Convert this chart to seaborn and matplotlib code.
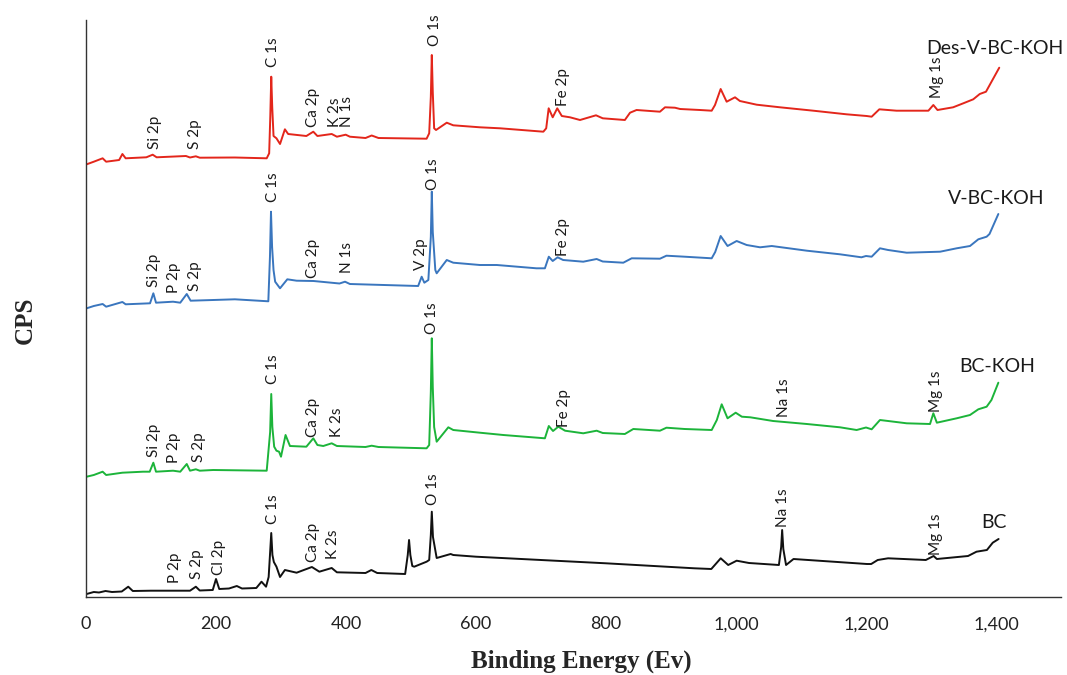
import numpy as np
import pandas as pd
import matplotlib
matplotlib.use("Agg")
import matplotlib.pyplot as plt
import seaborn as sns
from matplotlib.ticker import FuncFormatter

# ---------------- data (binding energy eV, intensity in arbitrary CPS units incl. stacking offset) -------------
des_E = [1, 12, 25.6, 31, 51, 56, 61, 92.8, 102.6, 108.7, 153.8, 160, 169, 175, 229, 278, 281.8, 283.5, 285,
         286.5, 288.5, 293, 298.5, 306, 311, 339, 349.7, 356, 378, 386, 399.5, 406, 430, 439.5, 450, 524, 528,
         530.5, 532, 533.5, 535.6, 538.5, 555, 565, 606, 637, 703.6, 708, 711.8, 718, 725, 732, 744.6, 760,
         784.6, 795, 829, 837, 847, 883, 890.8, 906, 914, 944.6, 962.6, 967.7, 976.4, 985.6, 998.5, 1006,
         1031.8, 1067.7, 1119, 1170, 1201, 1208.7, 1220.5, 1247, 1296, 1303.6, 1310, 1334, 1349.7, 1365,
         1375, 1384.6, 1405]
des_I = [432.7, 435.3, 438.7, 435.3, 437, 443, 438.7, 439.7, 442.3, 439.7, 441, 439.5, 440.7, 439.3, 439.5,
         438.7, 443.7, 480, 520.3, 490, 461, 458.7, 453, 467.7, 463, 461, 465.3, 461, 463, 460.3, 462.3, 460.3,
         459, 461.5, 459, 458.3, 463.7, 500, 542, 505, 468.7, 467, 474.3, 471.7, 469.7, 468.7, 465.3, 468.7,
         488.7, 479.7, 488.7, 481, 479.7, 477, 481.7, 478.7, 477, 484.3, 487, 485.3, 489.7, 489.3, 488, 487,
         486.3, 492, 508, 495.3, 499.7, 496, 492.3, 489.7, 486.3, 482.7, 481, 480.3, 487.7, 486.3, 486.3, 492,
         487, 489.7, 493.7, 497.7, 503, 505.3, 529.3]

vbc_E = [1, 12, 25.6, 31, 40, 56, 61, 98.5, 103.6, 107.7, 134, 145, 155, 161, 195.6, 229, 280.5, 283, 284.6,
         286.3, 288.5, 291, 298.5, 309.7, 324, 350, 390, 398.5, 406, 511, 516.4, 520.5, 526.7, 530.5, 532,
         533.5, 537.4, 539.5, 555, 565, 606, 632, 693, 706, 712, 718, 725.6, 734, 765, 785.6, 795, 826.6,
         839.5, 883, 893, 921, 962.6, 968, 976.4, 987, 1001, 1016.4, 1037, 1055, 1109, 1160, 1193, 1200,
         1208.7, 1221.5, 1234, 1262.6, 1314, 1339.5, 1360, 1372.8, 1385.6, 1390, 1403.6]
vbc_I = [288.7, 291, 293, 290.3, 292, 295, 292.7, 293.7, 303.7, 294.3, 295.3, 294.3, 303, 296.3, 297, 297.7,
         295.7, 340, 385.3, 350, 327, 315.3, 308.7, 317.7, 316.3, 316, 313.5, 315.3, 313, 311, 320.3, 314.3,
         317, 360, 405.3, 365, 327, 323.7, 337, 334.3, 332, 332, 328.7, 328.7, 340.3, 336, 339.7, 337, 335.3,
         338, 335.5, 334.3, 338.7, 338.3, 341.3, 340.3, 338.7, 345, 361, 351, 356, 352, 349.7, 351, 346.3,
         342.7, 339.7, 341, 340.3, 348.7, 347, 344.3, 345.3, 348.7, 351, 357.7, 360.3, 363, 383]

bck_E = [1, 12, 25.6, 31, 56, 87.7, 98, 103.6, 107.7, 134, 145, 155, 160, 169, 175, 195.6, 278, 283.3, 285,
         286.7, 289.5, 293, 297, 300, 307, 313.8, 339, 349.7, 356, 365, 378, 386, 430, 439.5, 450, 524, 528,
         530.5, 532, 533.5, 535.6, 539.5, 557.4, 565, 606, 642, 706, 712, 718.5, 726.6, 737, 765, 785.6, 795,
         829, 842, 883, 893, 921, 962.6, 970.5, 978, 987, 999.5, 1009, 1022, 1057, 1109, 1160, 1185.6, 1200,
         1208.7, 1221.5, 1234, 1262.6, 1298.5, 1303.6, 1309, 1339.5, 1360, 1372.8, 1385.6, 1393, 1403.6]
bck_I = [120.3, 122, 125.3, 122, 124.3, 125.3, 125.3, 134.3, 125.3, 126.3, 125.3, 133, 126.3, 127.7, 126.3,
         127, 126.3, 165, 203, 170, 150.3, 146.3, 145.3, 140.3, 162, 151, 150.3, 158.7, 152, 151, 153.7, 151,
         150, 151.3, 150, 148.7, 152, 205, 258.7, 210, 170, 155.3, 169.7, 167, 164.3, 162, 158.7, 171, 166,
         170.3, 166.3, 163.7, 166.3, 164, 163, 168, 166.3, 169.3, 168, 167, 177, 192.7, 178.7, 184.3, 180.3,
         179.7, 176, 173, 169.7, 167, 169.5, 167.7, 177, 176, 173.7, 173, 183.7, 174.3, 178.7, 182, 187.7,
         190.3, 197, 214.3]

bc_E = [1, 12, 20, 30, 40, 55, 65, 72, 100, 160, 169, 175, 195, 200, 205, 220, 232, 240, 262, 270, 277, 281,
        283.3, 285, 286.8, 289, 293, 298.5, 306, 324, 347.5, 359, 378, 386, 430, 439, 448, 491, 495, 497, 499,
        502, 505, 524, 528, 530.5, 532, 533.8, 539.5, 561, 565, 600, 800, 936, 962, 976.5, 988, 1001, 1020,
        1066, 1069.5, 1071, 1072.8, 1077, 1088.5, 1201.5, 1208, 1218, 1234, 1292, 1304, 1309, 1357, 1370,
        1386, 1395, 1404]
bc_I = [3, 5, 4.5, 6, 5, 5.5, 10.3, 6, 6.3, 6.3, 10.3, 6.5, 7, 18, 8, 8.5, 11, 8.5, 9, 15.3, 10.3, 20, 45,
        64, 42, 35, 30.3, 20, 27, 24.3, 30, 25.3, 29, 24.7, 24, 27, 24, 23, 42, 57, 42, 31, 30.3, 35.3, 37, 62,
        85.3, 60, 39, 43, 42, 40.3, 33.7, 28.7, 28, 38.7, 32, 36.3, 34, 32, 50, 67, 48, 32, 38, 33, 33, 37,
        38.7, 37, 41, 38, 41, 45.3, 47, 54.3, 58]

series_names = ["Des-V-BC-KOH", "V-BC-KOH", "BC-KOH", "BC"]
series_E = [des_E, vbc_E, bck_E, bc_E]
series_I = [des_I, vbc_I, bck_I, bc_I]
series_colors = ["#E3261B", "#3A76BE", "#1CB43A", "#111111"]

# peak annotations: (text, energy, intensity at bottom of label)
peaks_des = [("Si 2p", 106, 448), ("S 2p", 168, 448), ("C 1s", 287, 530), ("Ca 2p", 350, 470),
             ("K 2s", 383, 470), ("N 1s", 402, 470), ("O 1s", 537, 551), ("Fe 2p", 734, 491), ("Mg 1s", 1309, 499)]
peaks_vbc = [("Si 2p", 105, 310), ("P 2p", 136, 304), ("S 2p", 168, 306), ("C 1s", 287, 395), ("Ca 2p", 350, 319),
             ("N 1s", 402, 324), ("V 2p", 515, 327), ("O 1s", 534, 407), ("Fe 2p", 734, 341)]
peaks_bck = [("Si 2p", 105, 140), ("P 2p", 136, 134), ("S 2p", 174, 135), ("C 1s", 287, 213), ("Ca 2p", 350, 160),
             ("K 2s", 386, 160), ("O 1s", 533, 263), ("Fe 2p", 735, 170), ("Na 1s", 1074, 180), ("Mg 1s", 1307, 185)]
peaks_bc = [("P 2p", 137, 14), ("S 2p", 170, 18), ("Cl 2p", 205, 22), ("C 1s", 287, 73), ("Ca 2p", 350, 35),
            ("K 2s", 380, 38), ("O 1s", 534, 92), ("Na 1s", 1073, 70), ("Mg 1s", 1307, 42)]
all_peaks = [peaks_des, peaks_vbc, peaks_bck, peaks_bc]

x_ticks = [0, 200, 400, 600, 800, 1000, 1200, 1400]

# ---------------- plotting -------------
sns.set_style("white")
plt.rcParams["font.family"] = ["Lato", "DejaVu Sans"]

fig = plt.figure(figsize=(10.67, 6.75), dpi=100)
ax = fig.add_axes([86 / 1067, 1 - 597 / 675, (1061 - 86) / 1067, (597 - 20) / 675])

for name, E, I, c in zip(series_names, series_E, series_I, series_colors):
    df = pd.DataFrame({"E": E, "I": I})
    sns.lineplot(data=df, x="E", y="I", ax=ax, color=c, linewidth=1.4, estimator=None, sort=False)

for peaks in all_peaks:
    for txt, e, y in peaks:
        ax.text(e, y, txt, rotation=90, ha="center", va="bottom", fontsize=11, color="#1a1a1a")

label_xy = [(1292, 548), (1326, 399), (1343, 230), (1378, 74)]
for name, (lx, ly) in zip(series_names, label_xy):
    ax.text(lx, ly, name, ha="left", va="center", fontsize=14, color="#1a1a1a")

ax.set_xlim(0, 1500)
ax.set_ylim(0, 577)
ax.set_xticks(x_ticks)
ax.xaxis.set_major_formatter(FuncFormatter(lambda v, p: f"{int(v):,}"))
ax.set_yticks([])
ax.tick_params(axis="x", direction="out", length=5, width=1, pad=9, labelsize=13, colors="#222222")
for s in ["top", "right"]:
    ax.spines[s].set_visible(False)
for s in ["left", "bottom"]:
    ax.spines[s].set_color("#333333")
    ax.spines[s].set_linewidth(1.0)
ax.set_xlabel("")
ax.set_ylabel("")

fig.text(581 / 1067, 1 - 668 / 675, "Binding Energy (Ev)", ha="center", va="baseline",
         fontsize=18, fontweight="bold", family=["Liberation Serif", "DejaVu Serif"])
fig.text(25 / 1067, 1 - 320 / 675, "CPS", ha="center", va="center", rotation=90,
         fontsize=18, fontweight="bold", family=["Liberation Serif", "DejaVu Serif"])

fig.savefig("out.png", dpi=100)
